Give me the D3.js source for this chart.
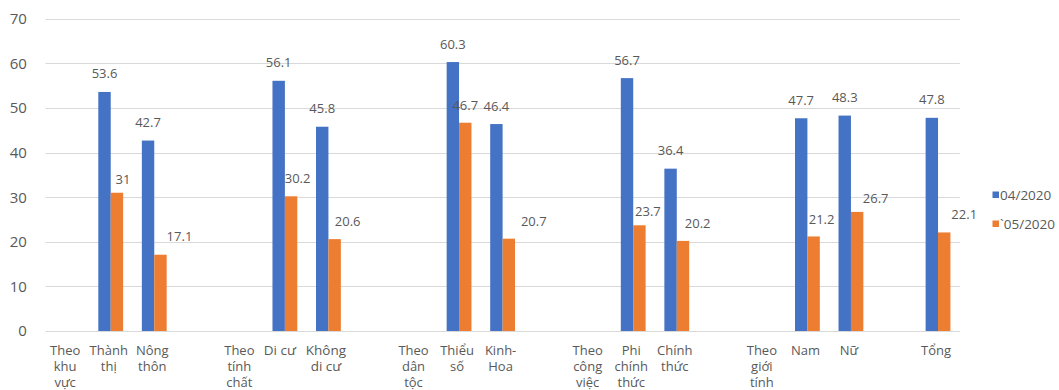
<!DOCTYPE html>
<html>
<head>
<meta charset="utf-8">
<script src="https://cdn.jsdelivr.net/npm/d3@7"></script>
<style>
  html, body { margin: 0; padding: 0; background: #fff; }
  svg { display: block; font-family: "Open Sans", sans-serif; }
</style>
</head>
<body>
<svg id="chart" width="1059" height="390"></svg>
<script>
// Category labels (line breaks as wrapped under the axis); empty strings are spacer slots
const categories = [
  "Theo\nkhu\nvực", "Thành\nthị", "Nông\nthôn", "",
  "Theo\ntính\nchất", "Di cư", "Không\ndi cư", "",
  "Theo\ndân\ntộc", "Thiểu\nsố", "Kinh-\nHoa", "",
  "Theo\ncông\nviệc", "Phi\nchính\nthức", "Chính\nthức", "",
  "Theo\ngiới\ntính", "Nam", "Nữ", "",
  "Tổng"
];
const seriesNames = ["04/2020", "`05/2020"];
const apr2020 = [null, 53.6, 42.7, null, null, 56.1, 45.8, null, null, 60.3, 46.4, null,
                 null, 56.7, 36.4, null, null, 47.7, 48.3, null, 47.8];
const may2020 = [null, 31, 17.1, null, null, 30.2, 20.6, null, null, 46.7, 20.7, null,
                 null, 23.7, 20.2, null, null, 21.2, 26.7, null, 22.1];
const yTicks = [0, 10, 20, 30, 40, 50, 60, 70];

// Hand-nudged placement of the `05/2020 value labels, in order of appearance [dx, dy]
const mayLabelNudge = [[6, 4], [19, -1], [6.5, -0.7], [13, 0], [0, 0.3], [25, 0],
                       [8.5, 3.3], [14.7, 0], [8, 0.3], [18.5, 4], [20, -0.7]];

const colors = { "04/2020": "#4472C4", "`05/2020": "#ED7D31" };
const textColor = "#595959";

const svg = d3.select("#chart");
const plot = { left: 45.4, right: 959.8, top: 18.8, bottom: 331 };

const x = d3.scaleBand()
  .domain(d3.range(categories.length))
  .range([plot.left, plot.right])
  .padding(0);

const y = d3.scaleLinear().domain([0, 70]).range([plot.bottom, plot.top]);

const groupW = x.bandwidth() * 0.57;
const xs = d3.scaleBand()
  .domain(seriesNames)
  .range([(x.bandwidth() - groupW) / 2, (x.bandwidth() + groupW) / 2])
  .padding(0);

// Horizontal gridlines
svg.append("g")
  .selectAll("line")
  .data(yTicks)
  .join("line")
  .attr("x1", plot.left).attr("x2", plot.right)
  .attr("y1", d => Math.round(y(d)) + 0.5).attr("y2", d => Math.round(y(d)) + 0.5)
  .attr("stroke", "#d9d9d9").attr("stroke-width", 1);

// Y axis labels
const yAxis = svg.append("g")
  .attr("transform", `translate(${plot.left - 18.5},0)`)
  .call(d3.axisLeft(y).tickValues(yTicks).tickSize(0).tickPadding(0));
yAxis.select(".domain").remove();
yAxis.selectAll("text")
  .attr("fill", textColor)
  .style("font-size", "15px")
  .style("font-family", "'Open Sans', sans-serif");

// Bars
const rows = categories.map((c, i) => ({ i, values: [
  { key: "04/2020", v: apr2020[i] },
  { key: "`05/2020", v: may2020[i] }
]}));

const groups = svg.append("g")
  .selectAll("g")
  .data(rows)
  .join("g")
  .attr("transform", d => `translate(${x(d.i)},0)`);

groups.selectAll("rect")
  .data(d => d.values.filter(e => e.v != null))
  .join("rect")
  .attr("x", d => xs(d.key))
  .attr("width", xs.bandwidth())
  .attr("y", d => y(d.v))
  .attr("height", d => y(0) - y(d.v))
  .attr("fill", d => colors[d.key]);

// Value labels: 04/2020 centred above its bar
const labels = svg.append("g")
  .attr("fill", textColor)
  .style("font-size", "13px");

apr2020.forEach((v, i) => {
  if (v == null) return;
  labels.append("text")
    .attr("x", x(i) + xs("04/2020") + xs.bandwidth() / 2)
    .attr("y", y(v) - 13.5)
    .attr("text-anchor", "middle")
    .text(v);
});

// Value labels: `05/2020, nudged clear of neighbouring bars
let k = 0;
may2020.forEach((v, i) => {
  if (v == null) return;
  const [dx, dy] = mayLabelNudge[k++];
  labels.append("text")
    .attr("x", x(i) + xs("`05/2020") + xs.bandwidth() / 2 + dx)
    .attr("y", y(v) - 13 + dy)
    .attr("text-anchor", "middle")
    .text(v);
});

// Category labels
const xAxis = svg.append("g")
  .attr("transform", `translate(0,${plot.bottom})`)
  .call(d3.axisBottom(x).tickSize(0).tickFormat(() => ""));
xAxis.select(".domain").remove();

// The two migration labels are set slightly larger and pulled apart a touch
const labelTweak = { "Di cư": -5, "Không\ndi cư": -2.5 };

xAxis.selectAll(".tick").each(function(i) {
  const name = categories[i];
  const lines = name ? name.split("\n") : [];
  const tweak = labelTweak[name];
  const t = d3.select(this).append("text")
    .attr("fill", textColor)
    .attr("text-anchor", "middle")
    .style("font-size", tweak !== undefined ? "13.5px" : "13px")
    .style("font-family", "'Open Sans', sans-serif");
  lines.forEach((ln, j) => {
    t.append("tspan")
      .attr("x", tweak !== undefined ? tweak : -2)
      .attr("y", 23.5 + j * 16)
      .text(ln);
  });
});

// Legend
const legend = svg.append("g").attr("transform", "translate(992.5,0)");
const legendRows = [
  { key: "04/2020", cy: 194.7 },
  { key: "`05/2020", cy: 223.7 }
];
legendRows.forEach(r => {
  legend.append("rect")
    .attr("x", 0).attr("y", r.cy - 3.2)
    .attr("width", 6.5).attr("height", 6.5)
    .attr("fill", colors[r.key]);
  legend.append("text")
    .attr("x", 7.5).attr("y", r.cy)
    .attr("dominant-baseline", "central")
    .attr("fill", textColor)
    .style("font-size", "13.5px")
    .text(r.key);
});
</script>
</body>
</html>
